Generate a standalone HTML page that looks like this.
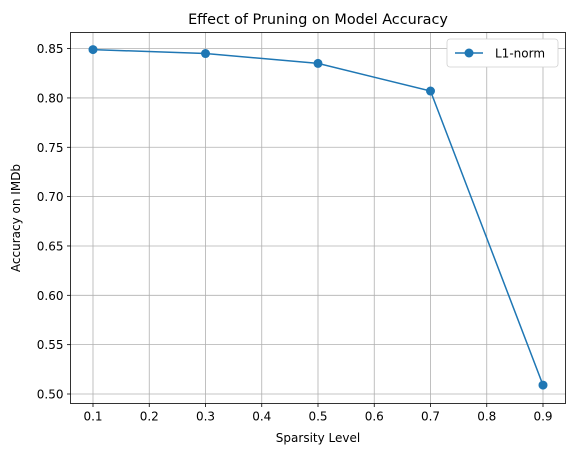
<!DOCTYPE html>
<html><head><meta charset="utf-8"><style>
body{margin:0;background:#fff;font-family:"DejaVu Sans","Liberation Sans",sans-serif}
</style></head><body>
<svg id="c" width="576" height="455" xmlns="http://www.w3.org/2000/svg"></svg>
<script>
const categories=[0.1,0.3,0.5,0.7,0.9];
const accuracy=[0.849,0.845,0.835,0.807,0.509];
const xTicks=[0.1,0.2,0.3,0.4,0.5,0.6,0.7,0.8,0.9];
const yTicks=[0.50,0.55,0.60,0.65,0.70,0.75,0.80,0.85];
const L=70.5,R=565.5,T=32.5,B=403.5;
const xmin=0.06,xmax=0.94;
const X=v=>L+(v-xmin)/(xmax-xmin)*(R-L);
const Y=v=>394-(v-0.5)/0.35*345.4;
const s=document.getElementById('c');
const ns='http://www.w3.org/2000/svg';
function mk(t,a,txt){const e=document.createElementNS(ns,t);for(const k in a)e.setAttribute(k,a[k]);if(txt!=null)e.textContent=txt;s.appendChild(e);return e;}
xTicks.forEach(v=>{const x=X(v);
const g=mk('line',{x1:x,x2:x,y1:T,y2:B,stroke:'#b0b0b0','stroke-width':0.8});


mk('line',{x1:x,x2:x,y1:B,y2:B+3.5,stroke:'#000','stroke-width':0.8});
const t=mk('text',{x:x,y:B+17,'font-size':12,'text-anchor':'middle'},v.toFixed(1));

});
yTicks.forEach(v=>{const y=Y(v);
const g=mk('line',{x1:L,x2:R,y1:y,y2:y,stroke:'#b0b0b0','stroke-width':0.8});


mk('line',{x1:L-3.5,x2:L,y1:y,y2:y,stroke:'#000','stroke-width':0.8});
const t=mk('text',{x:L-7,y:y+4.5,'font-size':12,'text-anchor':'end'},v.toFixed(2));

});
const pl=mk('polyline',{points:categories.map((c,i)=>X(c)+','+Y(accuracy[i])).join(' '),fill:'none',stroke:'#1f77b4','stroke-width':1.5});


categories.forEach((c,i)=>{const p=mk('circle',{cx:X(c),cy:Y(accuracy[i]),r:4.5,fill:'#1f77b4'});

});
const fr=mk('rect',{x:L,y:T,width:R-L,height:B-T,fill:'none',stroke:'#000','stroke-width':0.8});


const ti=mk('text',{x:(L+R)/2,y:24,'font-size':14.4,'text-anchor':'middle'},'Effect of Pruning on Model Accuracy');


const xl=mk('text',{x:(L+R)/2,y:442,'font-size':12,'text-anchor':'middle'},'Sparsity Level');


const yl=mk('text',{x:20,y:(T+B)/2,'font-size':12,'text-anchor':'middle',transform:'rotate(-90 20 '+(T+B)/2+')'},'Accuracy on IMDb');


const lg=mk('rect',{x:447,y:39,width:111,height:28,rx:3,fill:'#fff',stroke:'#d0d0d0','stroke-width':0.8});


mk('line',{x1:455,x2:483,y1:53,y2:53,stroke:'#1f77b4','stroke-width':1.5});
mk('circle',{cx:469,cy:53,r:4.5,fill:'#1f77b4'});
const lt=mk('text',{x:495,y:57.5,'font-size':12},'L1-norm');


</script>
</body></html>
